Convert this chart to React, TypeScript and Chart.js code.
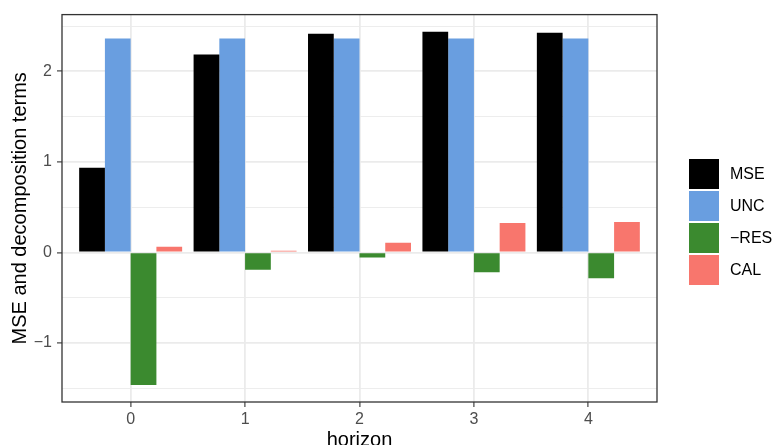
import React, { useEffect, useRef } from "react";
import { Chart, registerables } from "chart.js";

Chart.register(...registerables);

const horizons = [0, 1, 2, 3, 4];
const mseValues = [0.935, 2.187, 2.415, 2.437, 2.426];
const uncValues = [2.362, 2.362, 2.362, 2.362, 2.362];
const resValues = [-1.465, -0.19, -0.055, -0.22, -0.286];
const calValues = [0.063, 0.019, 0.107, 0.326, 0.337];
const seriesLabels = ["MSE", "UNC", "\u2212RES", "CAL"];
const seriesColors = ["#000000", "#699ee0", "#3b8a2f", "#f8766d"];
const yMajorTicks = [-1, 0, 1, 2];
const yMinorTicks = [-1.5, -0.5, 0.5, 1.5, 2.5];
const yMin = -1.652;
const yMax = 2.627;

const FONT = "'Liberation Sans', Arial, Helvetica, sans-serif";

export default function App() {
  const canvasRef = useRef<HTMLCanvasElement | null>(null);

  useEffect(() => {
    const canvas = canvasRef.current;
    if (!canvas) return;
    const toPoints = (vals: number[]) => horizons.map((h, i) => ({ x: h, y: vals[i] }));
    const seriesValues = [mseValues, uncValues, resValues, calValues];

    const panelBorder = {
      id: "panelBorder",
      afterDraw(chart: any) {
        const { ctx, chartArea } = chart;
        const { left, top, right, bottom } = chartArea;
        ctx.save();
        ctx.strokeStyle = "#333333";
        ctx.lineWidth = 1.3;
        ctx.strokeRect(left, top, right - left, bottom - top);
        ctx.restore();
      },
    };

    const fmt = (v: number) => (v < 0 ? "\u2212" + Math.abs(v) : String(v));

    const chart = new Chart(canvas, {
      type: "bar",
      data: {
        datasets: seriesLabels.map((label, i) => ({
          label,
          data: toPoints(seriesValues[i]),
          backgroundColor: seriesColors[i],
          borderWidth: 0,
          xAxisID: "x",
          yAxisID: "y",
          categoryPercentage: 0.9,
          barPercentage: 1.0,
        })),
      },
      options: {
        animation: false,
        responsive: false,
        maintainAspectRatio: false,
        layout: { padding: { top: 13, right: 117, left: 0, bottom: 0 } },
        plugins: {
          legend: { display: false },
          tooltip: { enabled: false },
        },
        scales: {
          x: {
            type: "linear",
            min: -0.6,
            max: 4.6,
            offset: false,
            afterBuildTicks: (s: any) => {
              s.ticks = horizons.map((v) => ({ value: v }));
            },
            afterFit: (s: any) => {
              s.height = 43;
            },
            grid: {
              offset: false,
              color: "#ebebeb",
              lineWidth: 1.8,
              tickColor: "#333333",
              tickLength: 5,
              tickWidth: 1.1,
            },
            border: { display: false },
            ticks: {
              color: "#4d4d4d",
              font: { family: FONT, size: 16 },
              padding: 3,
              maxRotation: 0,
              autoSkip: false,
              callback: (v: any) => fmt(Number(v)),
            },
            title: {
              display: true,
              text: "horizon",
              color: "#000000",
              font: { family: FONT, size: 20 },
              padding: { top: 0, bottom: -7 },
            },
          },
          y: {
            type: "linear",
            position: "left",
            min: yMin,
            max: yMax,
            afterBuildTicks: (s: any) => {
              s.ticks = yMajorTicks.map((v) => ({ value: v }));
            },
            afterFit: (s: any) => {
              s.width = 62;
            },
            grid: {
              color: "#ebebeb",
              lineWidth: 1.8,
              tickColor: "#333333",
              tickLength: 5,
              tickWidth: 1.1,
            },
            border: { display: false },
            ticks: {
              color: "#4d4d4d",
              font: { family: FONT, size: 16 },
              padding: 5,
              autoSkip: false,
              callback: (v: any) => fmt(Number(v)),
            },
            title: {
              display: true,
              text: "MSE and decomposition terms",
              color: "#000000",
              font: { family: FONT, size: 20 },
              padding: { top: 8, bottom: 0 },
            },
          },
          yMinor: {
            type: "linear",
            position: "left",
            min: yMin,
            max: yMax,
            afterBuildTicks: (s: any) => {
              s.ticks = yMinorTicks.map((v) => ({ value: v }));
            },
            afterFit: (s: any) => {
              s.width = 0;
            },
            grid: { color: "#ebebeb", lineWidth: 0.9, drawTicks: false },
            border: { display: false },
            ticks: { display: false },
          },
        },
      } as any,
      plugins: [panelBorder],
    });
    return () => chart.destroy();
  }, []);

  const legendTop = 159.3;
  const legendStep = 32;

  return (
    <div
      style={{
        position: "absolute",
        left: 0,
        top: 0,
        width: 774,
        height: 445,
        overflow: "hidden",
        background: "#ffffff",
        fontFamily: FONT,
      }}
    >
      <canvas ref={canvasRef} width={774} height={445} style={{ display: "block" }} />
      {seriesLabels.map((label, i) => (
        <div key={label}>
          <div
            style={{
              position: "absolute",
              left: 689,
              top: legendTop + i * legendStep,
              width: 30,
              height: 29.5,
              background: seriesColors[i],
            }}
          />
          <div
            style={{
              position: "absolute",
              left: 730,
              top: legendTop + i * legendStep,
              height: 29.5,
              lineHeight: "29.5px",
              fontSize: 16,
              color: "#000000",
              whiteSpace: "nowrap",
            }}
          >
            {label}
          </div>
        </div>
      ))}
    </div>
  );
}
